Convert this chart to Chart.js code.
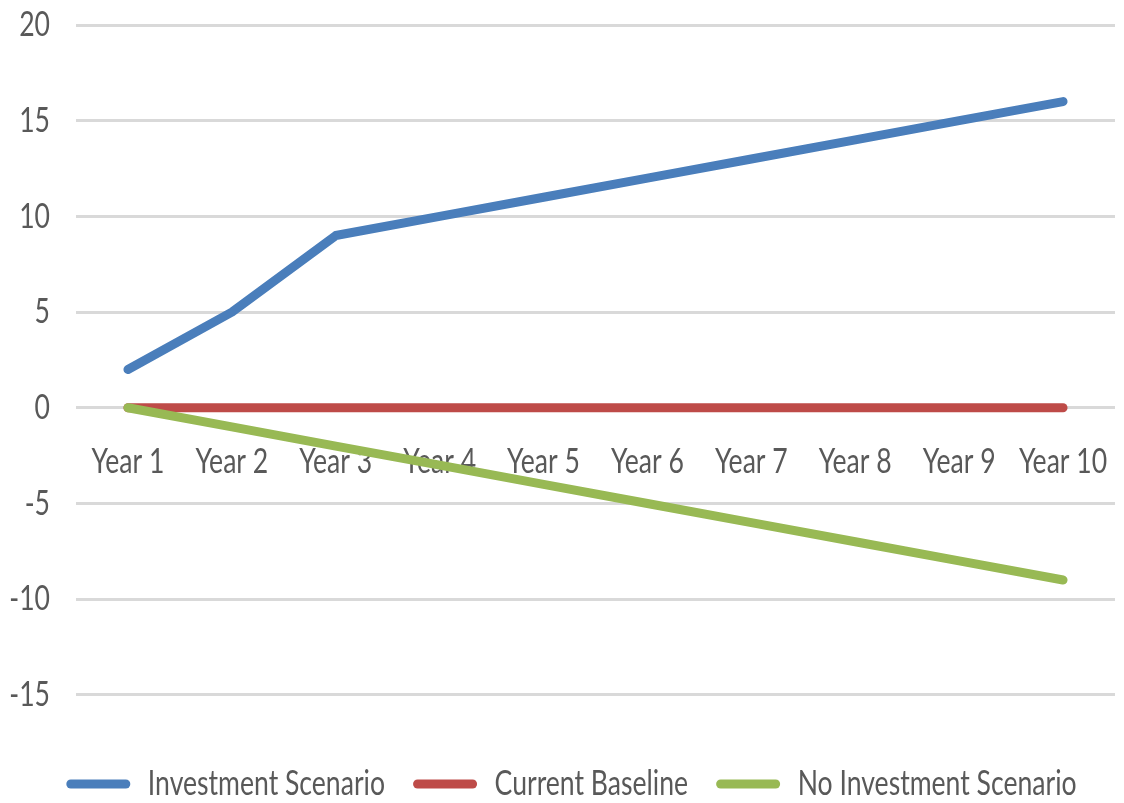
<!DOCTYPE html>
<html>
<head>
<meta charset="utf-8">
<script src="https://cdn.jsdelivr.net/npm/chart.js@4/dist/chart.umd.min.js"></script>
<style>
  html, body { margin: 0; padding: 0; background: #fff; }
</style>
</head>
<body>
<canvas id="myChart" width="1124" height="803"></canvas>
<script>
// categories and series
var years = ["Year 1", "Year 2", "Year 3", "Year 4", "Year 5", "Year 6", "Year 7", "Year 8", "Year 9", "Year 10"];
var investment = [2, 5, 9, 10, 11, 12, 13, 14, 15, 16];
var baseline = [0, 0, 0, 0, 0, 0, 0, 0, 0, 0];
var noInvestment = [0, -1, -2, -3, -4, -5, -6, -7, -8, -9];
var yTicks = [-15, -10, -5, 0, 5, 10, 15, 20];
var yMin = -17.28;  // a bit of empty room under -15 before the legend

var textColor = "#595959";
var fontFam = "Lato, 'Open Sans', sans-serif";
var fontSize = 35;

// the original uses a tall narrow face, so squeeze text horizontally
var squeeze = 0.76;
var canvas = document.getElementById("myChart");
var ctx = canvas.getContext("2d");
var rawFill = ctx.fillText.bind(ctx);
var rawMeasure = ctx.measureText.bind(ctx);
ctx.fillText = function (text, x, y, maxWidth) {
    ctx.save();
    ctx.translate(x, y);
    ctx.scale(squeeze, 1);
    if (maxWidth !== undefined) rawFill(text, 0, 0, maxWidth / squeeze);
    else rawFill(text, 0, 0);
    ctx.restore();
};
ctx.measureText = function (text) {
    var m = rawMeasure(text);
    return {
        width: m.width * squeeze,
        actualBoundingBoxLeft: m.actualBoundingBoxLeft * squeeze,
        actualBoundingBoxRight: m.actualBoundingBoxRight * squeeze,
        actualBoundingBoxAscent: m.actualBoundingBoxAscent,
        actualBoundingBoxDescent: m.actualBoundingBoxDescent
    };
};

function series(label, data, color, order) {
    return {
        label: label,
        data: data,
        borderColor: color,
        backgroundColor: color,
        borderWidth: 9,
        borderCapStyle: "round",
        borderJoinStyle: "round",
        pointRadius: 0,
        tension: 0,
        order: order
    };
}

// legend in the original sits a little right of the canvas centre
var legendShift = {
    id: "legendShift",
    afterLayout: function (chart) {
        chart.legend.left += 28;
    }
};

new Chart(canvas, {
    type: "line",
    data: {
        labels: years,
        datasets: [
            series("Investment Scenario", investment, "#4A7EBB", 3),
            series("Current Baseline", baseline, "#BE4B48", 2),
            series("No Investment Scenario", noInvestment, "#98B954", 1)
        ]
    },
    plugins: [legendShift],
    options: {
        responsive: false,
        animation: false,
        layout: { padding: { top: 25, right: 9, left: 0, bottom: -8.5 } },
        plugins: {
            tooltip: { enabled: false },
            legend: {
                position: "bottom",
                labels: {
                    color: textColor,
                    font: { family: fontFam, size: fontSize },
                    boxWidth: 64,
                    boxHeight: 9,
                    useBorderRadius: true,
                    borderRadius: 4.5,
                    padding: 28,
                    sort: function (a, b) { return a.datasetIndex - b.datasetIndex; },
                    generateLabels: function (chart) {
                        return Chart.defaults.plugins.legend.labels.generateLabels(chart).map(function (it) {
                            it.lineWidth = 0;
                            it.strokeStyle = "rgba(0,0,0,0)";
                            return it;
                        });
                    }
                }
            }
        },
        scales: {
            x: {
                position: { y: 0 },
                offset: true,
                afterFit: function (axis) {
                    axis.paddingLeft = 0;
                    axis.paddingRight = 0;
                },
                grid: { display: false, drawTicks: false },
                border: { display: false },
                ticks: { color: textColor, font: { family: fontFam, size: fontSize }, padding: 33, maxRotation: 0, autoSkip: false }
            },
            y: {
                min: yMin,
                max: yTicks[yTicks.length - 1],
                afterBuildTicks: function (axis) {
                    axis.ticks = yTicks.map(function (v) { return { value: v }; });
                },
                afterFit: function (axis) {
                    // fixed gutter; tick padding should not push the plot down
                    axis.width = 76;
                    axis.paddingTop = 0;
                    axis.paddingBottom = 0;
                },
                grid: { color: "#D9D9D9", lineWidth: 3, drawTicks: false },
                border: { display: false },
                ticks: { color: textColor, font: { family: fontFam, size: fontSize }, padding: 26 }
            }
        }
    }
});
</script>
</body>
</html>
